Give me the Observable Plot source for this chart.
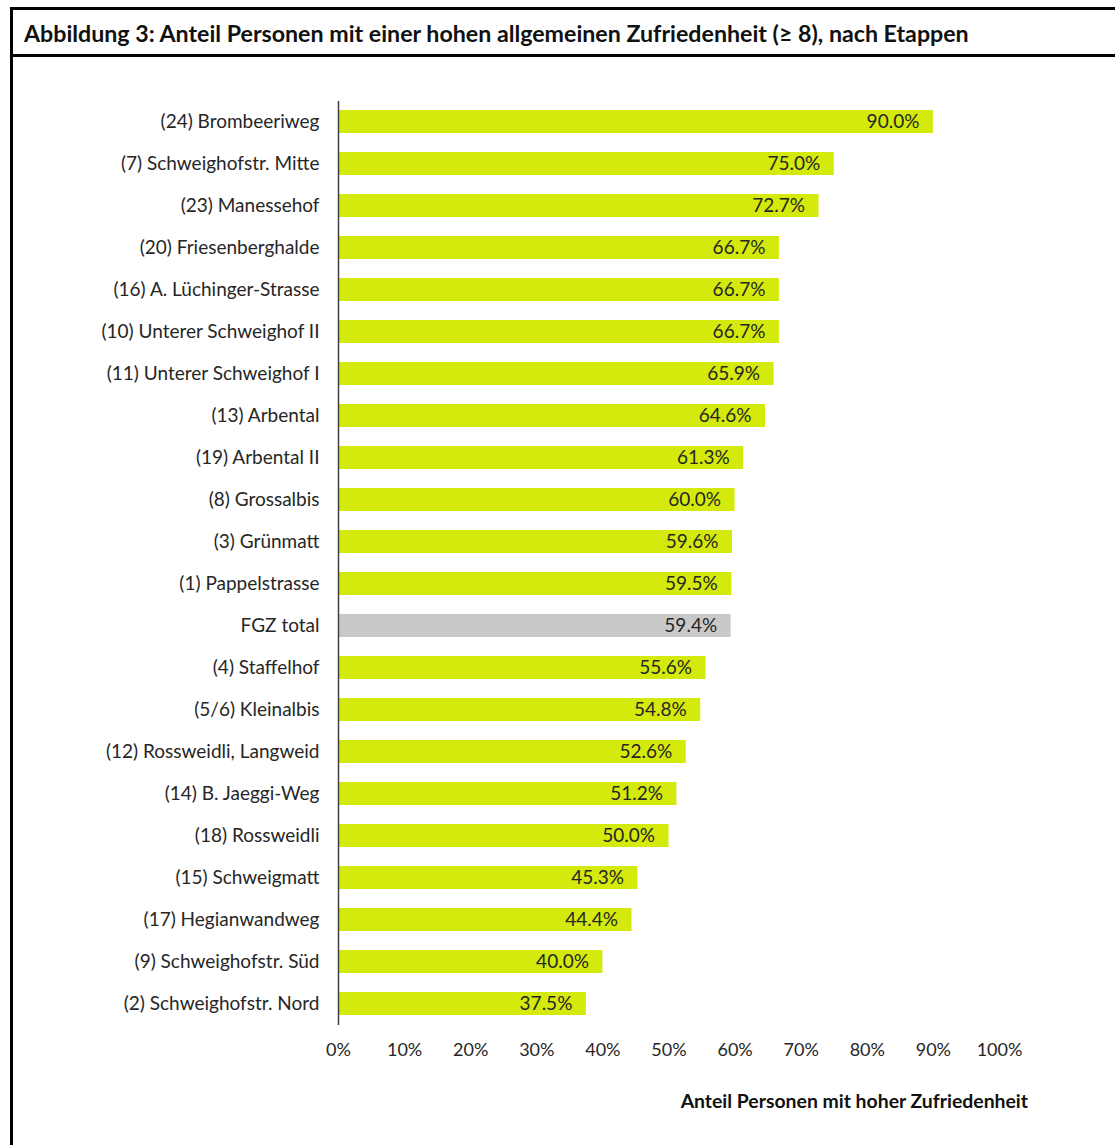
<!DOCTYPE html>
<html>
<head>
<meta charset="utf-8">
<script src="https://cdn.jsdelivr.net/npm/d3@7"></script>
<script src="https://cdn.jsdelivr.net/npm/@observablehq/plot@0.6"></script>
<style>
  html, body { margin: 0; padding: 0; background: #fff; }
  body { width: 1115px; height: 1145px; overflow: hidden; position: relative; font-family: Lato, "Open Sans", sans-serif; }
  #frame { position: absolute; left: 10px; top: 7px; width: 1120px; height: 1160px; border-left: 3px solid #000; border-top: 3px solid #000; }
  #title { position: absolute; left: 0; top: 0; width: 100%; height: 47px; border-bottom: 3px solid #000; font-weight: bold; font-size: 23.2px; color: #111; line-height: 46px; padding-left: 11px; box-sizing: border-box; white-space: nowrap; }
  #chart { position: absolute; left: -13px; top: 39px; }
  #caption { position: absolute; left: 0; top: 1088px; width: 1028px; text-align: right; font-weight: bold; font-size: 19.4px; line-height: 26px; color: #111; }
</style>
</head>
<body>
<div id="frame">
  <div id="title"></div>
  <div id="chart"></div>
</div>
<div id="caption"></div>
<script>
const titleText = "Abbildung 3: Anteil Personen mit einer hohen allgemeinen Zufriedenheit (≥ 8), nach Etappen";
const axisLabel = "Anteil Personen mit hoher Zufriedenheit";
const categories = [
  "(24) Brombeeriweg", "(7) Schweighofstr. Mitte", "(23) Manessehof", "(20) Friesenberghalde",
  "(16) A. Lüchinger-Strasse", "(10) Unterer Schweighof II", "(11) Unterer Schweighof I", "(13) Arbental",
  "(19) Arbental II", "(8) Grossalbis", "(3) Grünmatt", "(1) Pappelstrasse", "FGZ total",
  "(4) Staffelhof", "(5/6) Kleinalbis", "(12) Rossweidli, Langweid", "(14) B. Jaeggi-Weg",
  "(18) Rossweidli", "(15) Schweigmatt", "(17) Hegianwandweg", "(9) Schweighofstr. Süd", "(2) Schweighofstr. Nord"
];
const values = [90.0, 75.0, 72.7, 66.7, 66.7, 66.7, 65.9, 64.6, 61.3, 60.0, 59.6, 59.5, 59.4, 55.6, 54.8, 52.6, 51.2, 50.0, 45.3, 44.4, 40.0, 37.5];
const totalCategory = "FGZ total";
const xTicks = [0, 10, 20, 30, 40, 50, 60, 70, 80, 90, 100];

const data = categories.map((c, i) => ({name: c, value: values[i], total: c === totalCategory}));

document.getElementById("title").textContent = titleText;
document.getElementById("caption").textContent = axisLabel;

const font = "Lato, 'Open Sans', sans-serif";
const chart = Plot.plot({
  width: 1115,
  height: 1020,
  marginLeft: 338,
  marginRight: 116,
  marginTop: 52,
  marginBottom: 44,
  style: {fontFamily: font, fontSize: "19px", color: "#262626", background: "transparent"},
  x: {domain: [0, 100], ticks: xTicks, tickFormat: d => d + "%", label: null},
  y: {domain: categories, paddingInner: 0.45, paddingOuter: 0.225, label: null},
  marks: [
    Plot.barX(data, {y: "name", x: "value", fill: d => d.total ? "#c9c9c9" : "#d4e90c"}),
    Plot.text(data, {y: "name", x: "value", text: d => d.value.toFixed(1) + "%", textAnchor: "end", dx: -14, fill: "#262626", fontSize: 19}),
    Plot.ruleX([0], {stroke: "#404040", strokeWidth: 1.5}),
    Plot.axisY({tickSize: 0, tickPadding: 19, fontSize: 19, label: null}),
    Plot.axisX({ticks: xTicks, tickSize: 0, tickPadding: 18, tickFormat: d => d + "%", fontSize: 18, label: null})
  ]
});
document.getElementById("chart").appendChild(chart);
</script>
</body>
</html>
